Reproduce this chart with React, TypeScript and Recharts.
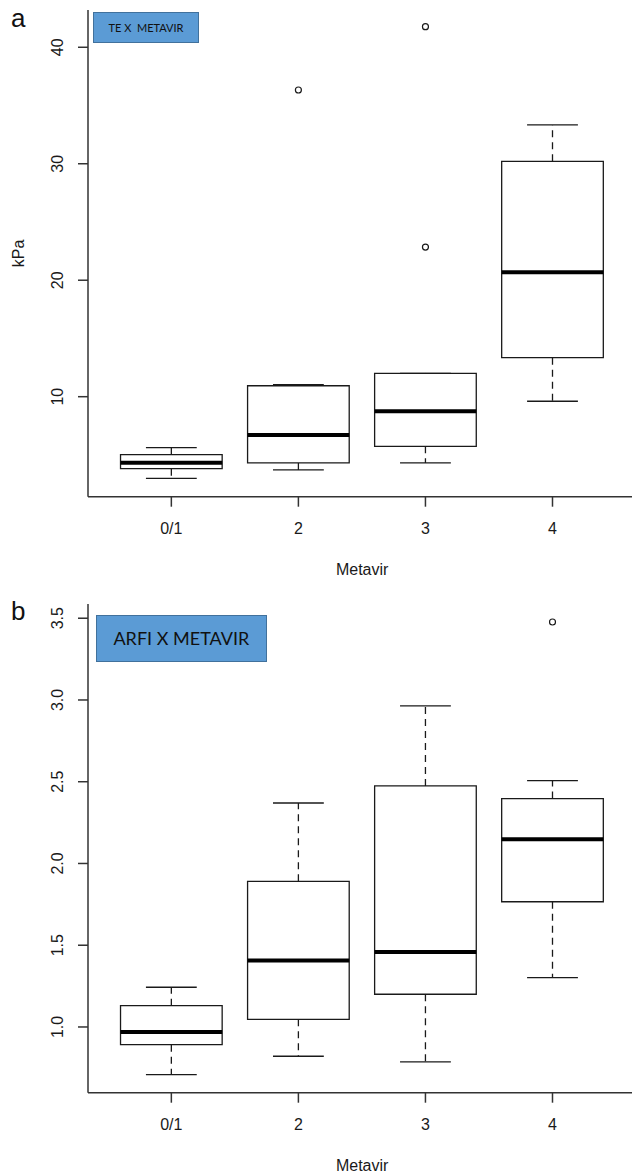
import React from 'react';
import { ComposedChart, XAxis, YAxis, ReferenceArea, ReferenceLine, Scatter } from 'recharts';

// ---- data ----
const categories = ['0/1', '2', '3', '4'];
const groupPositions = [1, 2, 3, 4];

// Panel a: TE (kPa)
const teLower = [2.99, 3.71, 4.31, 9.61];
const teQ1 = [3.82, 4.31, 5.74, 13.35];
const teMedian = [4.33, 6.71, 8.75, 20.68];
const teQ3 = [5.02, 10.94, 12.01, 30.21];
const teUpper = [5.62, 11.03, 12.01, 33.33];
const teOutlierGroups = [2, 3, 3];
const teOutlierValues = [36.33, 22.85, 41.77];
const teTicks = [10, 20, 30, 40];

// Panel b: ARFI
const arfiLower = [0.708, 0.821, 0.786, 1.302];
const arfiQ1 = [0.892, 1.047, 1.2, 1.766];
const arfiMedian = [0.969, 1.406, 1.459, 2.148];
const arfiQ3 = [1.13, 1.891, 2.474, 2.397];
const arfiUpper = [1.243, 2.37, 2.964, 2.507];
const arfiOutlierGroups = [4];
const arfiOutlierValues = [3.477];
const arfiTicks = [1.0, 1.5, 2.0, 2.5, 3.0, 3.5];

// ---- layout / style constants ----
const FONT = '"Liberation Sans", Arial, sans-serif';
const TEXT = '#1a1a1a';
const FRAME = '#333';
const BOX = '#1a1a1a';
const BOX_HALF = 0.4;
const CAP_HALF = 0.2;
const X_DOMAIN: [number, number] = [0.344, 4.66];
const CHART_W = 640;
const Y_AXIS_W = 88;

type Stats = {
  lower: number[];
  q1: number[];
  median: number[];
  q3: number[];
  upper: number[];
  outGroups: number[];
  outValues: number[];
};

const XTick = (props: any) => {
  const { x, y, payload } = props;
  return (
    <text x={x} y={y + 21.5} textAnchor="middle" dominantBaseline="central" fontSize={16} fontFamily={FONT} fill={TEXT}>
      {categories[payload.value - 1]}
    </text>
  );
};

const makeYTick = (fmt: (v: number) => string) => (props: any) => {
  const { x, y, payload } = props;
  const cx = x - 20.5;
  return (
    <text x={cx} y={y} transform={`rotate(-90 ${cx} ${y})`} textAnchor="middle" dominantBaseline="central" fontSize={16} fontFamily={FONT} fill={TEXT}>
      {fmt(payload.value)}
    </text>
  );
};

const OutlierShape = (props: any) => (
  <circle cx={props.cx} cy={props.cy} r={3} fill="none" stroke={BOX} strokeWidth={1.2} />
);

function BoxPanel(props: {
  stats: Stats;
  yDomain: [number, number];
  ticks: number[];
  fmt: (v: number) => string;
  top: number;
  height: number;
  marginTop: number;
  axisHeight: number;
  yLabel?: string;
}) {
  const { stats, yDomain, ticks, fmt, top, height, marginTop, axisHeight, yLabel } = props;
  const outliers = stats.outGroups.map((g, i) => ({ x: g, y: stats.outValues[i] }));
  const elems: React.ReactElement[] = [];
  groupPositions.forEach((p, i) => {
    elems.push(
      <ReferenceLine key={`wu${i}`} segment={[{ x: p, y: stats.q3[i] }, { x: p, y: stats.upper[i] }]} stroke={BOX} strokeWidth={1.3} strokeDasharray="7 5" ifOverflow="visible" />,
      <ReferenceLine key={`wl${i}`} segment={[{ x: p, y: stats.q1[i] }, { x: p, y: stats.lower[i] }]} stroke={BOX} strokeWidth={1.3} strokeDasharray="7 5" ifOverflow="visible" />,
      <ReferenceLine key={`cu${i}`} segment={[{ x: p - CAP_HALF, y: stats.upper[i] }, { x: p + CAP_HALF, y: stats.upper[i] }]} stroke={BOX} strokeWidth={1.3} ifOverflow="visible" />,
      <ReferenceLine key={`cl${i}`} segment={[{ x: p - CAP_HALF, y: stats.lower[i] }, { x: p + CAP_HALF, y: stats.lower[i] }]} stroke={BOX} strokeWidth={1.3} ifOverflow="visible" />,
      <ReferenceArea key={`b${i}`} x1={p - BOX_HALF} x2={p + BOX_HALF} y1={stats.q1[i]} y2={stats.q3[i]} fill="#ffffff" fillOpacity={0} stroke={BOX} strokeWidth={1.3} strokeOpacity={1} ifOverflow="visible" />,
      <ReferenceLine key={`m${i}`} segment={[{ x: p - BOX_HALF, y: stats.median[i] }, { x: p + BOX_HALF, y: stats.median[i] }]} stroke="#000" strokeWidth={4} ifOverflow="visible" />
    );
  });

  return (
    <div style={{ position: 'absolute', left: 0, top, width: CHART_W, height }}>
      <ComposedChart width={CHART_W} height={height} margin={{ top: marginTop, right: CHART_W - Y_AXIS_W - 548.35, bottom: 0, left: 0 }}>
        <XAxis
          type="number"
          dataKey="x"
          domain={X_DOMAIN}
          ticks={groupPositions}
          allowDataOverflow
          height={axisHeight}
          tickSize={10}
          tickMargin={0}
          tick={<XTick />}
          axisLine={{ stroke: FRAME, strokeWidth: 1.5 }}
          tickLine={{ stroke: FRAME, strokeWidth: 1.5 }}
          label={(lp: any) => {
            const vb = lp.viewBox;
            return (
              <text x={vb.x + vb.width / 2} y={vb.y + 72.5} textAnchor="middle" dominantBaseline="central" fontSize={16} fontFamily={FONT} fill={TEXT}>
                Metavir
              </text>
            );
          }}
        />
        <XAxis xAxisId="top" orientation="top" type="number" domain={X_DOMAIN} allowDataOverflow height={0} tick={false} tickLine={false} axisLine={{ stroke: FRAME, strokeWidth: 1.5 }} />
        <YAxis
          type="number"
          dataKey="y"
          domain={yDomain}
          ticks={ticks}
          allowDataOverflow
          width={Y_AXIS_W}
          tickSize={10}
          tickMargin={0}
          tick={makeYTick(fmt)}
          axisLine={{ stroke: FRAME, strokeWidth: 1.5 }}
          tickLine={{ stroke: FRAME, strokeWidth: 1.5 }}
          label={(lp: any) => {
            if (!yLabel) return null;
            const vb = lp.viewBox;
            const cx = 18.5;
            const cy = vb.y + vb.height / 2;
            return (
              <text x={cx} y={cy} transform={`rotate(-90 ${cx} ${cy})`} textAnchor="middle" dominantBaseline="central" fontSize={16} fontFamily={FONT} fill={TEXT}>
                {yLabel}
              </text>
            );
          }}
        />
        <YAxis yAxisId="right" orientation="right" type="number" domain={yDomain} allowDataOverflow width={0} tick={false} tickLine={false} axisLine={{ stroke: FRAME, strokeWidth: 1.5 }} />
        {elems}
        <Scatter data={outliers} dataKey="y" isAnimationActive={false} shape={<OutlierShape />} />
      </ComposedChart>
    </div>
  );
}

const teStats: Stats = { lower: teLower, q1: teQ1, median: teMedian, q3: teQ3, upper: teUpper, outGroups: teOutlierGroups, outValues: teOutlierValues };
const arfiStats: Stats = { lower: arfiLower, q1: arfiQ1, median: arfiMedian, q3: arfiQ3, upper: arfiUpper, outGroups: arfiOutlierGroups, outValues: arfiOutlierValues };

const titleBox = (left: number, top: number, width: number, height: number, fontSize: number, text: string) => (
  <div
    style={{
      position: 'absolute',
      left,
      top,
      width,
      height,
      boxSizing: 'border-box',
      background: '#5B9BD5',
      border: '1.5px solid #41719C',
      display: 'flex',
      alignItems: 'center',
      justifyContent: 'center',
      fontFamily: 'Lato, "Open Sans", sans-serif',
      fontSize,
      color: '#111',
      whiteSpace: 'pre',
    }}
  >
    {text}
  </div>
);

const panelLetter = (top: number, letter: string) => (
  <div style={{ position: 'absolute', left: 11, top, fontFamily: FONT, fontSize: 26, lineHeight: '26px', color: '#111' }}>{letter}</div>
);

export default function App() {
  return (
    <div style={{ position: 'absolute', left: 0, top: 0, width: 632, height: 1174, overflow: 'hidden', background: '#fff' }}>
      <BoxPanel stats={teStats} yDomain={[1.414, 43.2]} ticks={teTicks} fmt={(v) => String(v)} top={0} height={590} marginTop={10} axisHeight={93.3} yLabel="kPa" />
      <BoxPanel stats={arfiStats} yDomain={[0.598, 3.587]} ticks={arfiTicks} fmt={(v) => v.toFixed(1)} top={590} height={584} marginTop={14} axisHeight={81.3} />
      {titleBox(93, 12, 106, 31, 11, 'TE X  METAVIR')}
      {titleBox(95.7, 614.7, 171.3, 47.3, 18, 'ARFI X METAVIR')}
      {panelLetter(5, 'a')}
      {panelLetter(598, 'b')}
    </div>
  );
}
